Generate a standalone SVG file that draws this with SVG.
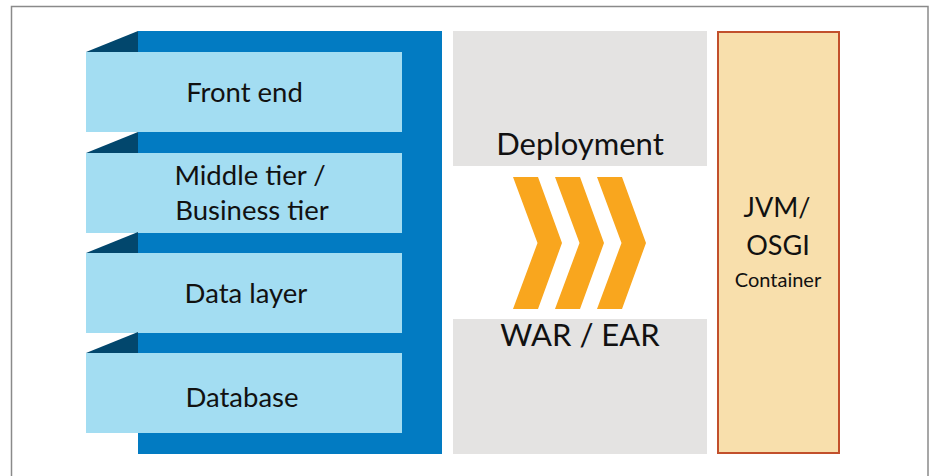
<svg xmlns="http://www.w3.org/2000/svg" width="934" height="476" viewBox="0 0 934 476">
<style>
.tier{fill:#A3DDF2}
.fold{fill:#02476D}
.gray{fill:#E4E3E2}
.chev{fill:#F9A61E}
text{font-family:Lato,"Liberation Sans",sans-serif;fill:#111;text-anchor:middle}
.t1{font-size:27.5px}
.t2{font-size:31px}
.t4{font-size:27px}
.t3{font-size:20px}
</style>
<rect x="0" y="0" width="934" height="476" fill="#fff"/>
<rect x="11.5" y="6.5" width="916.5" height="480" fill="none" stroke="#8A8A8A" stroke-width="1.5"/>
<g id="stack-backing"><rect x="138" y="31" width="304" height="423" fill="#027BC2"/></g>
<g id="front-end">
<polygon class="fold" points="86,52 138,31 138,52"/>
<rect class="tier" x="86" y="52" width="316" height="80"/>
<text class="t1" x="244.5" y="101.5">Front end</text>
</g>
<g id="middle-tier">
<polygon class="fold" points="86,153 138,132 138,153"/>
<rect class="tier" x="86" y="153" width="316" height="80"/>
<text class="t1" x="250" y="185">Middle tier /</text>
<text class="t1" x="252" y="220">Business tier</text>
</g>
<g id="data-layer">
<polygon class="fold" points="86,253 138,232 138,253"/>
<rect class="tier" x="86" y="253" width="316" height="80"/>
<text class="t1" x="246" y="302.5">Data layer</text>
</g>
<g id="database">
<polygon class="fold" points="86,353 138,332 138,353"/>
<rect class="tier" x="86" y="353" width="316" height="80"/>
<text class="t1" x="242" y="406.5">Database</text>
</g>
<g id="deployment">
<rect class="gray" x="453" y="31" width="254" height="135"/>
<text class="t2" x="580" y="155">Deployment</text>
</g>
<g id="war-ear">
<rect class="gray" x="453" y="319" width="254" height="135"/>
<text class="t2" x="580" y="346">WAR / EAR</text>
</g>
<g id="connectors">
<polygon class="chev" points="513,177 538,177 562,243 538,309 513,309 537.5,243"/>
<polygon class="chev" points="555,177 580,177 604,243 580,309 555,309 579.5,243"/>
<polygon class="chev" points="597,177 622,177 646,243 622,309 597,309 621.5,243"/>
</g>
<g id="container">
<rect x="718" y="32" width="121" height="421" fill="#F8DFAC" stroke="#C2502C" stroke-width="2"/>
<text class="t4" x="777" y="216.5">JVM/</text>
<text class="t4" x="778" y="255">OSGI</text>
<text class="t3" x="778" y="287">Container</text>
</g>
</svg>
